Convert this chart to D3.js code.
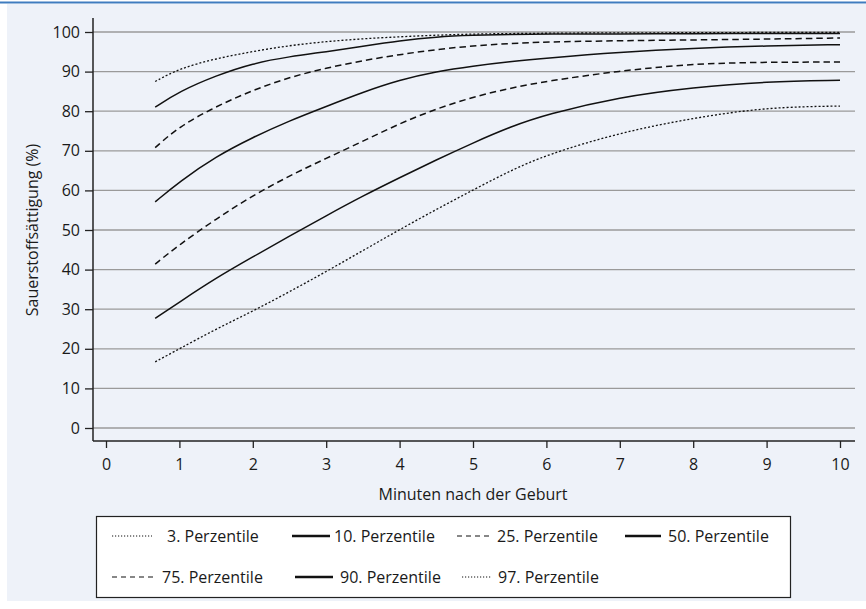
<!DOCTYPE html>
<html><head><meta charset="utf-8">
<script src="https://cdn.jsdelivr.net/npm/d3@7"></script>
<style>
html,body{margin:0;padding:0;background:#fff;}
svg{display:block;font-family:"Open Sans",sans-serif;}
</style></head>
<body><svg id="chart" width="866" height="609"></svg>
<script>
const minutes = [0.67, 1, 1.5, 2, 2.5, 3, 3.5, 4, 4.5, 5, 5.5, 6, 7, 8, 9, 10];
const p3  = [16.7, 20.0, 25.0, 29.5, 34.4, 39.5, 44.8, 50.1, 55.2, 60.1, 64.9, 69.0, 74.6, 78.3, 81.0, 81.3];
const p10 = [27.7, 31.8, 37.9, 43.2, 48.5, 53.6, 58.6, 63.2, 67.7, 72.0, 76.0, 79.2, 83.6, 86.0, 87.5, 87.8];
const p25 = [41.4, 46.3, 52.8, 58.7, 63.7, 68.1, 72.4, 76.9, 80.6, 83.6, 85.8, 87.6, 90.2, 92.0, 92.4, 92.4];
const p50 = [57.1, 62.2, 68.6, 73.4, 77.6, 81.2, 84.8, 87.9, 90.0, 91.4, 92.5, 93.4, 94.9, 95.9, 96.5, 96.8];
const p75 = [70.8, 76.2, 81.2, 85.3, 88.6, 90.9, 92.8, 94.3, 95.6, 96.5, 97.1, 97.5, 97.8, 98.0, 98.2, 98.5];
const p90 = [81.0, 85.0, 89.0, 92.1, 93.8, 95.0, 96.4, 97.8, 98.8, 99.2, 99.4, 99.5, 99.5, 99.6, 99.6, 99.6];
const p97 = [87.5, 90.8, 93.3, 95.1, 96.6, 97.6, 98.3, 98.8, 99.2, 99.5, 99.6, 99.7, 99.8, 99.8, 99.9, 99.9];
const seriesNames = ["3. Perzentile","10. Perzentile","25. Perzentile","50. Perzentile","75. Perzentile","90. Perzentile","97. Perzentile"];
const seriesValues = [p3, p10, p25, p50, p75, p90, p97];
const xTicks = [0,1,2,3,4,5,6,7,8,9,10];
const yTicks = [0,10,20,30,40,50,60,70,80,90,100];
const xTitle = "Minuten nach der Geburt";
const yTitle = "Sauerstoffsättigung (%)";

const styles = [
  {dash:"2,2", w:1.3, lw:1.0, ldash:"1.2,1.8"},
  {dash:null, w:1.5, lw:2.6, ldash:null},
  {dash:"6.5,4", w:1.5, lw:1.2, ldash:"5,4"},
  {dash:null, w:1.5, lw:2.6, ldash:null},
  {dash:"6.5,4", w:1.5, lw:1.2, ldash:"5,4"},
  {dash:null, w:1.5, lw:2.6, ldash:null},
  {dash:"2,2", w:1.3, lw:1.0, ldash:"1.2,1.8"}
];

const svg = d3.select("#chart");
svg.append("rect").attr("x",7).attr("y",4).attr("width",859).attr("height",597).attr("fill","#eef2f9");
svg.append("rect").attr("x",0).attr("y",1.5).attr("width",866).attr("height",2).attr("fill","#3f7cbf");

const x = d3.scaleLinear().domain([0,10]).range([106,840]);
const y = d3.scaleLinear().domain([0,100]).range([428,32]);
const axisLeftX = 93, axisBottomY = 441, gridRight = 855;
const FS = 16;

// grid
svg.append("g").selectAll("line").data(yTicks).join("line")
  .attr("x1",axisLeftX).attr("x2",gridRight)
  .attr("y1",d=>y(d)).attr("y2",d=>y(d))
  .attr("stroke","#9a9a9a").attr("stroke-width",1.3);

// y axis
const gy = svg.append("g").attr("transform",`translate(${axisLeftX},0)`)
  .call(d3.axisLeft(y).tickValues(yTicks).tickSize(8).tickPadding(5).tickSizeOuter(0));
gy.select(".domain").remove();
gy.selectAll(".tick line").attr("stroke","#222").attr("stroke-width",1.3);
gy.selectAll(".tick text").attr("font-size",FS).attr("fill","#1a1a1a").attr("font-family","Open Sans");
svg.append("line").attr("x1",axisLeftX).attr("x2",axisLeftX).attr("y1",18).attr("y2",axisBottomY)
  .attr("stroke","#222").attr("stroke-width",1.5);

// x axis
const gx = svg.append("g").attr("transform",`translate(0,${axisBottomY})`)
  .call(d3.axisBottom(x).tickValues(xTicks).tickSize(7).tickPadding(11).tickSizeOuter(0));
gx.select(".domain").remove();
gx.selectAll(".tick line").attr("stroke","#222").attr("stroke-width",1.3);
gx.selectAll(".tick text").attr("font-size",FS).attr("fill","#1a1a1a").attr("font-family","Open Sans");
svg.append("line").attr("x1",axisLeftX).attr("x2",gridRight).attr("y1",axisBottomY).attr("y2",axisBottomY)
  .attr("stroke","#222").attr("stroke-width",1.5);

// titles
svg.append("text").attr("x",473).attr("y",500).attr("text-anchor","middle")
  .attr("font-size",FS).attr("fill","#1a1a1a").text(xTitle);
svg.append("text").attr("transform","translate(38,230) rotate(-90)").attr("text-anchor","middle")
  .attr("font-size",FS).attr("fill","#1a1a1a").text(yTitle);

// lines
const line = d3.line().x(d=>x(d[0])).y(d=>y(d[1])).curve(d3.curveBasis);
seriesValues.forEach((vals,i)=>{
  const pts = minutes.map((m,j)=>[m, vals[j]]);
  svg.append("path").datum(pts).attr("d",line).attr("fill","none")
    .attr("stroke","#111").attr("stroke-width",styles[i].w)
    .attr("stroke-dasharray",styles[i].dash);
});

// legend
svg.append("rect").attr("x",96.5).attr("y",516.5).attr("width",694).attr("height",81)
  .attr("fill","#fff").attr("stroke","#222").attr("stroke-width",1.2);
const legPos = [
  {sx:112, ex:152, tx:167, y:536},
  {sx:292, ex:330, tx:334, y:536},
  {sx:457, ex:493, tx:497, y:536},
  {sx:625, ex:661, tx:668, y:536},
  {sx:112, ex:153, tx:162, y:577},
  {sx:295, ex:333, tx:340, y:577},
  {sx:462, ex:491, tx:498, y:577}
];
seriesNames.forEach((n,i)=>{
  const p = legPos[i];
  svg.append("line").attr("x1",p.sx).attr("x2",p.ex).attr("y1",p.y).attr("y2",p.y)
    .attr("stroke","#111").attr("stroke-width",styles[i].lw).attr("stroke-dasharray",styles[i].ldash);
  svg.append("text").attr("x",p.tx).attr("y",p.y).attr("dy","0.35em")
    .attr("font-size",FS).attr("fill","#1a1a1a").text(n);
});
</script></body></html>
